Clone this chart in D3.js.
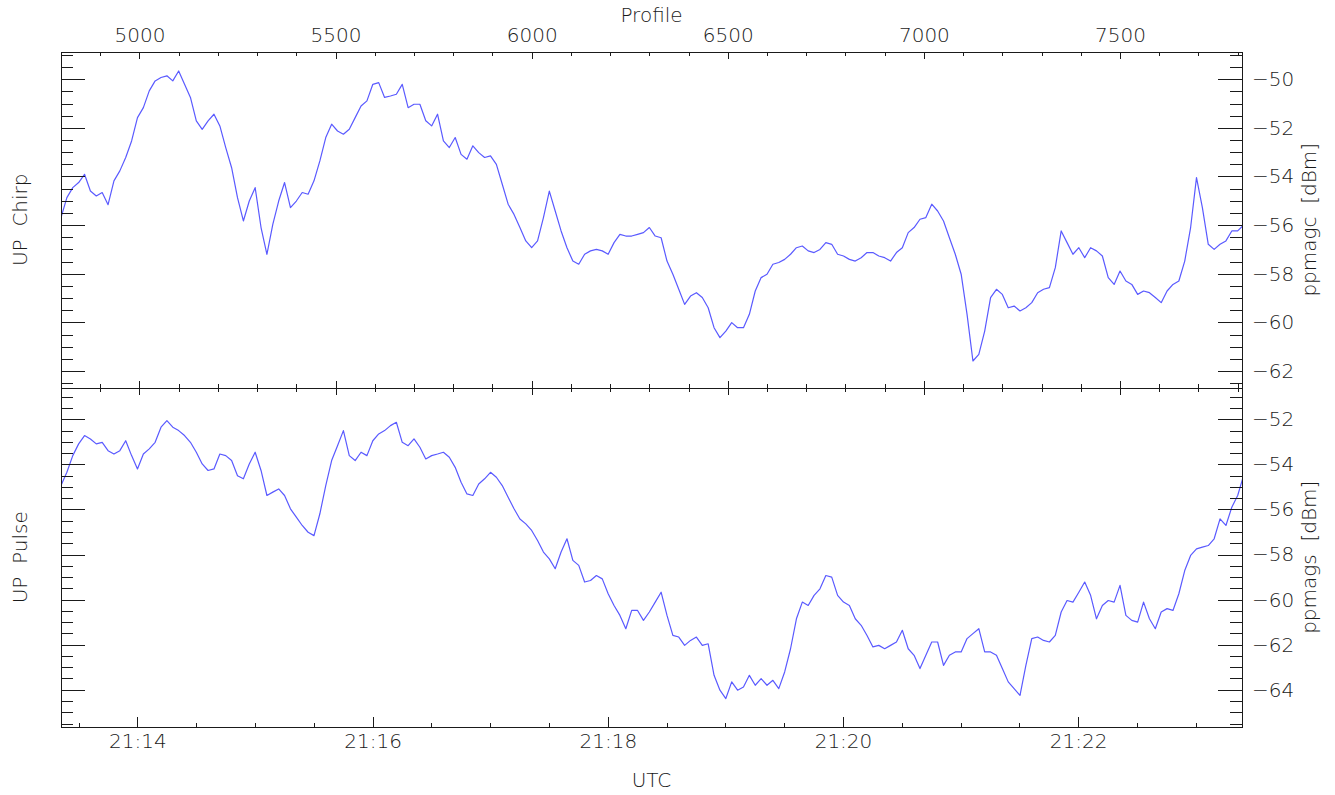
<!DOCTYPE html>
<html lang="en">
  <head>
    <meta charset="utf-8">
    <title>UP Chirp / UP Pulse</title>
    <style>
      body { margin: 0; background: #fff; }
      svg { display: block; }
      text {
        font-family: "DejaVu Sans", sans-serif;
        font-weight: 200;
        font-size: 20px;
        fill: #1a1a1a;
      }
      .axis path, .axis line {
        fill: none;
        stroke: #1a1a1a;
        shape-rendering: crispEdges;
      }
      .axis text { font-family: "DejaVu Sans", sans-serif; font-size: 20px; fill: #1a1a1a; }
      .trace { fill: none; stroke: #5a5aff; stroke-width: 1.2; stroke-linejoin: round; }
    </style>
  </head>
  <body>
    <svg id="chart" width="1335" height="795"></svg>
    <script src="https://cdnjs.cloudflare.com/ajax/libs/d3/7.8.5/d3.min.js"></script>
    <script>
      // profiles are sampled every profileStep starting at profileStart
      const profileStart = 4800;
      const profileStep = 15;

      const chirp = [
        -55.69,-54.87,-54.46,-54.25,-53.91,-54.60,-54.80,-54.66,-55.16,-54.18,
        -53.77,-53.22,-52.54,-51.58,-51.17,-50.48,-50.07,-49.93,-49.86,-50.07,
        -49.66,-50.21,-50.75,-51.71,-52.06,-51.71,-51.44,-51.92,-52.81,-53.64,
        -54.87,-55.83,-55.01,-54.46,-56.10,-57.20,-55.97,-55.01,-54.25,-55.28,
        -55.01,-54.66,-54.73,-54.18,-53.36,-52.40,-51.85,-52.13,-52.26,-52.06,
        -51.58,-51.10,-50.89,-50.21,-50.14,-50.75,-50.69,-50.62,-50.21,-51.17,
        -51.03,-51.03,-51.71,-51.92,-51.44,-52.54,-52.81,-52.40,-53.09,-53.29,
        -52.74,-53.02,-53.22,-53.15,-53.50,-54.32,-55.14,-55.56,-56.10,-56.65,
        -56.93,-56.65,-55.69,-54.60,-55.42,-56.24,-56.93,-57.48,-57.61,-57.20,
        -57.06,-57.00,-57.06,-57.20,-56.72,-56.38,-56.45,-56.45,-56.38,-56.31,
        -56.10,-56.45,-56.52,-57.48,-58.02,-58.64,-59.26,-58.92,-58.78,-58.98,
        -59.40,-60.22,-60.63,-60.36,-60.01,-60.22,-60.22,-59.67,-58.71,-58.16,
        -58.02,-57.61,-57.54,-57.41,-57.20,-56.93,-56.86,-57.06,-57.13,-57.00,
        -56.72,-56.79,-57.20,-57.27,-57.41,-57.48,-57.34,-57.13,-57.13,-57.27,
        -57.34,-57.48,-57.13,-56.93,-56.31,-56.10,-55.76,-55.69,-55.14,-55.42,
        -55.83,-56.52,-57.20,-58.02,-59.67,-61.59,-61.32,-60.36,-58.98,-58.64,
        -58.85,-59.40,-59.33,-59.53,-59.40,-59.19,-58.78,-58.64,-58.57,-57.75,
        -56.24,-56.72,-57.20,-56.93,-57.34,-56.93,-57.06,-57.27,-58.16,-58.44,
        -57.89,-58.30,-58.44,-58.85,-58.71,-58.78,-58.98,-59.19,-58.71,-58.44,
        -58.30,-57.48,-56.10,-54.05,-55.28,-56.79,-57.00,-56.79,-56.65,-56.24,
        -56.24,-56.00
      ];

      const pulse = [
        -54.94,-54.35,-53.61,-53.09,-52.72,-52.87,-53.09,-53.02,-53.39,-53.54,
        -53.39,-52.95,-53.61,-54.20,-53.54,-53.31,-53.02,-52.35,-52.06,-52.35,
        -52.50,-52.72,-53.02,-53.46,-53.98,-54.27,-54.20,-53.54,-53.61,-53.83,
        -54.50,-54.64,-53.98,-53.46,-54.27,-55.38,-55.23,-55.09,-55.38,-55.97,
        -56.34,-56.71,-57.01,-57.16,-56.19,-54.94,-53.83,-53.17,-52.50,-53.61,
        -53.83,-53.46,-53.61,-52.95,-52.65,-52.50,-52.28,-52.13,-53.02,-53.17,
        -52.87,-53.24,-53.76,-53.61,-53.54,-53.46,-53.68,-54.13,-54.79,-55.31,
        -55.38,-54.87,-54.64,-54.35,-54.57,-54.94,-55.46,-55.97,-56.42,-56.64,
        -56.93,-57.38,-57.89,-58.19,-58.63,-57.89,-57.30,-58.26,-58.48,-59.22,
        -59.15,-58.93,-59.08,-59.74,-60.26,-60.70,-61.29,-60.48,-60.48,-60.92,
        -60.55,-60.11,-59.67,-60.70,-61.59,-61.66,-62.03,-61.81,-61.66,-62.03,
        -61.96,-63.36,-64.02,-64.39,-63.65,-64.02,-63.88,-63.36,-63.80,-63.51,
        -63.80,-63.58,-63.95,-63.21,-62.18,-60.85,-60.11,-60.26,-59.81,-59.52,
        -58.93,-59.00,-59.81,-60.11,-60.26,-60.85,-61.14,-61.59,-62.10,-62.03,
        -62.18,-62.03,-61.88,-61.36,-62.18,-62.47,-63.06,-62.47,-61.88,-61.88,
        -62.92,-62.47,-62.32,-62.32,-61.73,-61.51,-61.29,-62.32,-62.32,-62.47,
        -63.06,-63.65,-63.95,-64.25,-62.92,-61.73,-61.66,-61.81,-61.88,-61.59,
        -60.55,-60.04,-60.11,-59.67,-59.22,-59.81,-60.85,-60.26,-60.04,-60.11,
        -59.37,-60.70,-60.92,-61.00,-60.11,-60.85,-61.29,-60.55,-60.40,-60.48,
        -59.74,-58.71,-58.04,-57.75,-57.67,-57.60,-57.30,-56.42,-56.71,-55.90,
        -55.38,-54.50
      ];

      const profileTicks = [5000, 5500, 6000, 6500, 7000, 7500];
      const timeTicks = ["21:14", "21:16", "21:18", "21:20", "21:22"];
      const chirpTicks = [-50, -52, -54, -56, -58, -60, -62];
      const pulseTicks = [-52, -54, -56, -58, -60, -62, -64];

      const X0 = 61, X1 = 1242;
      const svg = d3.select("#chart");

      const toSec = s => { const p = s.split(":"); return (+p[0]) * 3600 + (+p[1]) * 60; };
      const fmtTime = s => Math.floor(s / 3600) + ":" + d3.format("02d")(Math.floor(s / 60) % 60);

      const xProfile = d3.scaleLinear().domain([4800, 7811]).range([X0, X1]);
      const xTime = d3.scaleLinear().domain([21 * 3600 + 13 * 60 + 21, 21 * 3600 + 23 * 60 + 23.6]).range([X0, X1]);

      const panels = [
        { name: "UP Chirp", unit: "ppmagc [dBm]", data: chirp, ticks: chirpTicks,
          top: 51.5, bottom: 388, domain: [-62.70, -48.86] },
        { name: "UP Pulse", unit: "ppmags [dBm]", data: pulse, ticks: pulseTicks,
          top: 388, bottom: 726.5, domain: [-65.63, -50.61] }
      ];

      const profMinor = d3.range(4800, 7812, 100);
      const fmt = d => d < 0 ? "\u2212" + Math.abs(d) : d;

      panels.forEach((p, k) => {
        const y = d3.scaleLinear().domain(p.domain).range([p.bottom, p.top]);
        const yMinor = d3.range(Math.ceil(p.domain[0] * 2) / 2, p.domain[1], 0.5);

        svg.append("clipPath").attr("id", "clip" + k)
          .append("rect").attr("x", X0).attr("y", p.top)
          .attr("width", X1 - X0).attr("height", p.bottom - p.top);

        const line = d3.line()
          .x((d, i) => xProfile(profileStart + i * profileStep))
          .y(d => y(d));

        svg.append("path")
          .datum(p.data)
          .attr("class", "trace")
          .attr("clip-path", "url(#clip" + k + ")")
          .attr("d", line);

        // left axis: ticks pointing inwards, no labels
        svg.append("g").attr("class", "axis")
          .attr("transform", "translate(" + X0 + ",0)")
          .call(d3.axisRight(y).tickValues(yMinor).tickSize(12).tickFormat(""))
          .call(g => g.select(".domain").remove());
        svg.append("g").attr("class", "axis")
          .attr("transform", "translate(" + X0 + ",0)")
          .call(d3.axisRight(y).tickValues(p.ticks).tickSize(24).tickFormat(""));

        // right axis: ticks inwards, labels outside
        svg.append("g").attr("class", "axis")
          .attr("transform", "translate(" + X1 + ",0)")
          .call(d3.axisLeft(y).tickValues(yMinor).tickSize(12).tickFormat(""))
          .call(g => g.select(".domain").remove());
        svg.append("g").attr("class", "axis")
          .attr("transform", "translate(" + X1 + ",0)")
          .call(d3.axisLeft(y).tickValues(p.ticks).tickSize(24).tickFormat(""));
        svg.append("g").attr("class", "axis")
          .attr("transform", "translate(" + X1 + ",0)")
          .call(d3.axisRight(y).tickValues(p.ticks).tickSize(0).tickPadding(10).tickFormat(fmt))
          .call(g => g.select(".domain").remove());

        // top edge: profile ticks pointing down
        svg.append("g").attr("class", "axis")
          .attr("transform", "translate(0," + p.top + ")")
          .call(d3.axisBottom(xProfile).tickValues(profMinor).tickSize(4).tickFormat(""));
        svg.append("g").attr("class", "axis")
          .attr("transform", "translate(0," + p.top + ")")
          .call(d3.axisBottom(xProfile).tickValues(profileTicks).tickSize(7).tickFormat(""))
          .call(g => g.select(".domain").remove());

        if (k === 0) {
          // profile tick labels and bottom-edge ticks of the upper panel
          svg.append("g").attr("class", "axis")
            .attr("transform", "translate(0," + p.top + ")")
            .call(d3.axisTop(xProfile).tickValues(profileTicks).tickSize(0).tickPadding(9.5).tickFormat(d3.format("d")))
            .call(g => g.select(".domain").remove());
          svg.append("g").attr("class", "axis")
            .attr("transform", "translate(0," + p.bottom + ")")
            .call(d3.axisTop(xProfile).tickValues(profMinor).tickSize(4).tickFormat(""));
          svg.append("g").attr("class", "axis")
            .attr("transform", "translate(0," + p.bottom + ")")
            .call(d3.axisTop(xProfile).tickValues(profileTicks).tickSize(7).tickFormat(""))
            .call(g => g.select(".domain").remove());
        } else {
          // time axis at the bottom
          const tMajor = timeTicks.map(toSec);
          const tMinor = d3.range(21 * 3600 + 13 * 60 + 30, xTime.domain()[1], 30);
          svg.append("g").attr("class", "axis")
            .attr("transform", "translate(0," + p.bottom + ")")
            .call(d3.axisTop(xTime).tickValues(tMinor).tickSize(4).tickFormat(""));
          svg.append("g").attr("class", "axis")
            .attr("transform", "translate(0," + p.bottom + ")")
            .call(d3.axisTop(xTime).tickValues(tMajor).tickSize(10).tickFormat(""))
            .call(g => g.select(".domain").remove());
          svg.append("g").attr("class", "axis")
            .attr("transform", "translate(0," + p.bottom + ")")
            .call(d3.axisBottom(xTime).tickValues(tMajor).tickSize(0).tickPadding(7.5).tickFormat(fmtTime))
            .call(g => g.select(".domain").remove());
        }

        const mid = (p.top + p.bottom) / 2;
        svg.append("text")
          .attr("transform", "translate(27," + mid + ") rotate(-90)")
          .attr("text-anchor", "middle")
          .text(p.name.replace(" ", "\u00a0 "));
        svg.append("text")
          .attr("transform", "translate(1316," + mid + ") rotate(-90)")
          .attr("text-anchor", "middle")
          .text(p.unit.replace(" ", "\u00a0 "));
      });

      svg.append("text")
        .attr("x", (X0 + X1) / 2).attr("y", 22)
        .attr("text-anchor", "middle")
        .text("Profile");

      svg.append("text")
        .attr("x", (X0 + X1) / 2).attr("y", 787)
        .attr("text-anchor", "middle")
        .text("UTC");
    </script>
  </body>
</html>
